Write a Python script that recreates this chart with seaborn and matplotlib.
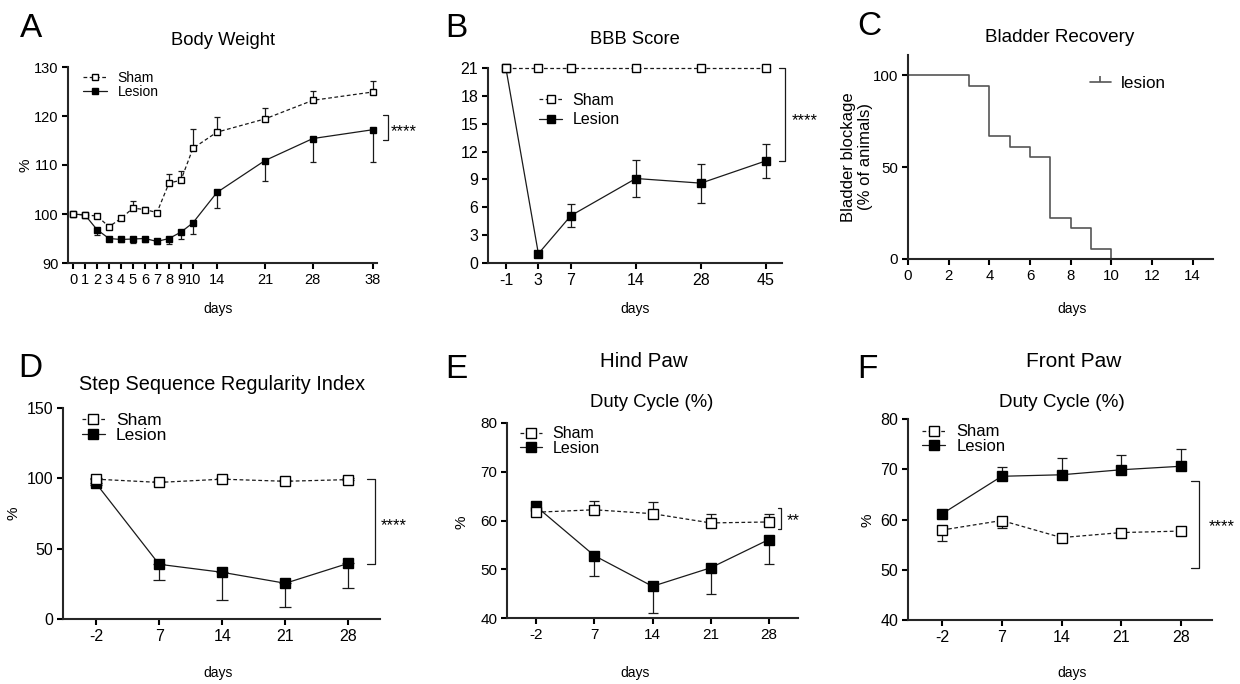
import numpy as np
import pandas as pd
import seaborn as sns
import matplotlib.pyplot as plt
from matplotlib.lines import Line2D

# ---- values ----
# A  body weight (%)
bw_days = [0, 1, 2, 3, 4, 5, 6, 7, 8, 9, 10, 14, 21, 28, 38]
bw_sham = [100, 99.8, 99.6, 97.4, 99.1, 101.2, 100.9, 100.3, 106.3, 106.9, 113.4, 116.7, 119.4, 123.2, 124.9]
bw_sham_err = [0.3, 0.3, 0.4, 0.5, 0.4, 1.5, 0.5, 0.4, 1.9, 1.8, 3.9, 3.1, 2.3, 1.9, 2.3]
bw_lesion = [100, 99.8, 96.8, 95.0, 94.8, 94.9, 95.0, 94.4, 95.0, 96.3, 98.2, 104.4, 110.9, 115.4, 117.2]
bw_lesion_err = [0.3, 0.3, 1.0, 0.5, 0.5, 0.8, 0.8, 0.5, 1.1, 1.4, 2.2, 3.1, 4.2, 4.8, 6.6]

# B  BBB score
bbb_days = [-1, 3, 7, 14, 28, 45]
bbb_sham = [21, 21, 21, 21, 21, 21]
bbb_lesion = [21, 1.0, 5.1, 9.1, 8.6, 11.0]
bbb_lesion_err = [0, 0.3, 1.25, 2.0, 2.1, 1.8]

# C  bladder recovery (% of animals still blocked)
bl_days = [0, 3, 4, 5, 6, 7, 8, 9, 10]
bl_pct = [100, 94.4, 66.7, 61.1, 55.6, 22.2, 16.7, 5.6, 0]

# D-F  gait analysis
gait_days = [-2, 7, 14, 21, 28]
ssri_sham = [99.4, 97.1, 99.4, 97.9, 99.1]
ssri_sham_err = [1, 1, 1, 1, 1]
ssri_lesion = [96.5, 38.9, 33.2, 25.4, 39.6]
ssri_lesion_err = [1, 11.2, 19.6, 17.0, 17.8]

hind_sham = [61.7, 62.2, 61.4, 59.5, 59.7]
hind_sham_err = [0.4, 1.7, 2.3, 1.9, 1.7]
hind_lesion = [62.9, 52.8, 46.5, 50.3, 56.1]
hind_lesion_err = [0.3, 4.1, 5.5, 5.4, 5.0]

front_sham = [57.9, 59.8, 56.4, 57.4, 57.7]
front_sham_err = [2.2, 1.5, 0.4, 0.3, 0.3]
front_lesion = [61.1, 68.6, 68.9, 69.9, 70.6]
front_lesion_err = [0.3, 1.8, 3.3, 2.9, 3.4]

sns.set_theme(style="ticks")
plt.rcParams["font.family"] = ["Liberation Sans", "DejaVu Sans"]
plt.rcParams["axes.linewidth"] = 1.5
plt.rcParams["text.color"] = "black"

W, H = 1240, 684
fig = plt.figure(figsize=(W / 100, H / 100), dpi=100)
INK = "#1a1a1a"


def box(l, t, r, b):
    return fig.add_axes([l / W, 1 - b / H, (r - l) / W, (b - t) / H])


def ftext(x, y, s, size, ha="center", va="baseline", **kw):
    fig.text(x / W, 1 - y / H, s, fontsize=size, ha=ha, va=va, **kw)


def warp(days, pos):
    # piecewise linear x axis (uneven day spacing like the original)
    d = np.asarray(days, float)
    p = np.asarray(pos, float)
    d = np.r_[d[0] - 100 * (d[1] - d[0]), d, d[-1] + 100 * (d[-1] - d[-2])]
    p = np.r_[p[0] - 100 * (p[1] - p[0]), p, p[-1] + 100 * (p[-1] - p[-2])]
    return (lambda x: np.interp(x, d, p), lambda y: np.interp(y, p, d))


def style_axis(ax, tick_size):
    sns.despine(ax=ax)
    ax.tick_params(direction="out", length=4, width=1.5, labelsize=tick_size,
                   pad=3, colors="black")
    ax.set_xlabel("")
    ax.set_ylabel("")


def group(ax, x, y, lo, hi, filled, ms, cap, z):
    ax.errorbar(x, y, yerr=[lo, hi], fmt="none", ecolor=INK, elinewidth=0.9,
                capsize=cap, capthick=0.9, zorder=z - 0.5, clip_on=False)
    sns.lineplot(x=x, y=y, ax=ax, color=INK, linewidth=0.9,
                 linestyle="-" if filled else (0, (3, 2)), marker="s",
                 markersize=ms, markerfacecolor="black" if filled else "white",
                 markeredgecolor="black", markeredgewidth=1.0, zorder=z,
                 clip_on=False)


def legend(ax, x, y, size, ms, hl, tp, sp):
    hs = Line2D([], [], color=INK, lw=0.9, ls=(0, (3, 2)), marker="s", ms=ms,
                mfc="white", mec="black", mew=1.0)
    hlz = Line2D([], [], color=INK, lw=0.9, ls="-", marker="s", ms=ms,
                 mfc="black", mec="black", mew=1.0)
    ax.legend([hs, hlz], ["Sham", "Lesion"], loc="center left",
              bbox_to_anchor=(x / W, 1 - y / H), bbox_transform=fig.transFigure,
              frameon=False, fontsize=size, handlelength=hl, handletextpad=tp,
              labelspacing=sp, borderpad=0, borderaxespad=0)


def bracket(ax, x, arm, y0, y1, stars, tx, ty, size=12, ha="center"):
    tr = ax.get_yaxis_transform()
    ax.plot([arm, x, x, arm], [y1, y1, y0, y0], color=INK, lw=0.9,
            transform=tr, clip_on=False)
    ax.text(tx, ty, stars, transform=tr, fontsize=size, ha=ha, va="center")


zero5 = [0, 0, 0, 0, 0]

# ---------------- A ----------------
ax = box(68, 67, 377, 263)
zb = [0] * len(bw_days)
group(ax, bw_days, bw_lesion, bw_lesion_err, zb, True, 5, 2.5, 3)
group(ax, bw_days, bw_sham, zb, bw_sham_err, False, 5, 2.5, 4)
ax.set_xscale("function", functions=warp(bw_days, [0, 1, 2, 3, 4, 5, 6, 7, 8, 9, 10, 12, 16, 20, 25]))
ax.set_xlim(-0.42, 38.7)
ax.set_xticks(bw_days)
ax.set_xticklabels([str(d) for d in bw_days])
ax.set_ylim(90, 130)
ax.set_yticks([90, 100, 110, 120, 130])
style_axis(ax, 10.5)
legend(ax, 83, 85, 10, 5, 1.7, 0.8, 0.05)
bracket(ax, 1.036, 1.019, 115.1, 120.2, "****", 1.087, 116.9)

# ---------------- B ----------------
ax = box(488, 68, 782, 263)
group(ax, bbb_days, bbb_lesion, bbb_lesion_err, bbb_lesion_err, True, 5.4, 3, 3)
group(ax, bbb_days, bbb_sham, [0] * 6, [0] * 6, False, 5.4, 3, 4)
ax.set_xscale("function", functions=warp(bbb_days, [0, 1, 2, 4, 6, 8]))
ax.set_xlim(-3.2, 49.2)
ax.set_xticks(bbb_days)
ax.set_xticklabels([str(d) for d in bbb_days])
ax.set_ylim(0, 21)
ax.set_yticks(range(0, 22, 3))
style_axis(ax, 11.5)
legend(ax, 539, 110, 11.5, 5.4, 1.45, 0.65, 0.3)
bracket(ax, 1.010, 0.990, 11, 21, "****", 1.078, 15.3)

# ---------------- C ----------------
ax = box(908, 55, 1213, 259)
sns.lineplot(x=bl_days, y=bl_pct, ax=ax, color="#555555", linewidth=1.2,
             drawstyle="steps-post", clip_on=False)
ax.set_xlim(0, 15)
ax.set_ylim(0, 111)
ax.set_xticks(range(0, 15, 2))
ax.set_yticks([0, 50, 100])
style_axis(ax, 10.8)
hc = Line2D([], [], color="#555555", lw=1.2, marker=2, ms=4, mew=1.2)
ax.legend([hc], ["lesion"], loc="center left", bbox_to_anchor=(1090 / W, 1 - 83 / H),
          bbox_transform=fig.transFigure, frameon=False, fontsize=12.3,
          handlelength=1.2, handletextpad=0.6, borderpad=0, borderaxespad=0)

# ---------------- D ----------------
ax = box(63, 408, 380, 619)
gait_warp = warp(gait_days, [0, 1, 2, 3, 4])
group(ax, gait_days, ssri_lesion, ssri_lesion_err, zero5, True, 7.2, 4.3, 3)
group(ax, gait_days, ssri_sham, zero5, ssri_sham_err, False, 7.2, 4.3, 4)
ax.set_xscale("function", functions=gait_warp)
ax.set_xlim(-6.7, 31.5)
ax.set_xticks(gait_days)
ax.set_xticklabels([str(d) for d in gait_days])
ax.set_ylim(0, 150)
ax.set_yticks([0, 50, 100, 150])
style_axis(ax, 11.5)
legend(ax, 82, 428, 12.5, 7.2, 1.3, 0.65, 0.0)
bracket(ax, 0.984, 0.959, 39, 99.3, "****", 1.044, 66.4)

# ---------------- E ----------------
ax = box(507, 423, 798, 618)
group(ax, gait_days, hind_lesion, hind_lesion_err, zero5, True, 6.8, 3.6, 3)
group(ax, gait_days, hind_sham, zero5, hind_sham_err, False, 6.8, 3.6, 4)
ax.set_xscale("function", functions=gait_warp)
ax.set_xlim(-6.5, 31.5)
ax.set_xticks(gait_days)
ax.set_xticklabels([str(d) for d in gait_days])
ax.set_ylim(40, 80)
ax.set_yticks([40, 50, 60, 70, 80])
style_axis(ax, 11)
legend(ax, 520, 441, 11.5, 6.8, 1.4, 0.65, -0.05)
bracket(ax, 0.942, 0.93, 58.3, 62.6, "**", 0.983, 59.9)

# ---------------- F ----------------
ax = box(908, 419, 1212, 620)
group(ax, gait_days, front_lesion, zero5, front_lesion_err, True, 6.5, 3.6, 3)
group(ax, gait_days, front_sham, front_sham_err, zero5, False, 6.5, 3.6, 4)
ax.set_xscale("function", functions=gait_warp)
ax.set_xlim(-7.1, 31.6)
ax.set_xticks(gait_days)
ax.set_xticklabels([str(d) for d in gait_days])
ax.set_ylim(40, 80)
ax.set_yticks([40, 50, 60, 70, 80])
style_axis(ax, 11.5)
legend(ax, 922, 439, 12, 6.5, 1.4, 0.65, -0.05)
bracket(ax, 0.957, 0.931, 50.3, 67.6, "****", 1.033, 58.5)

# ---------------- texts ----------------
for letter, x, y in [("A", 20, 37), ("B", 445, 37), ("C", 857, 35),
                     ("D", 18, 377), ("E", 445, 378), ("F", 857, 378)]:
    ftext(x, y, letter, 24, ha="left")

ftext(223, 45, "Body Weight", 13.2)
ftext(635, 44, "BBB Score", 13.2)
ftext(1060, 42, "Bladder Recovery", 13.6)
ftext(222, 390, "Step Sequence Regularity Index", 14.3)
ftext(644, 367, "Hind Paw", 14.8)
ftext(652, 407, "Duty Cycle (%)", 13.3)
ftext(1074, 367, "Front Paw", 15)
ftext(1062, 407, "Duty Cycle (%)", 13.6)

for x, y in [(218, 313), (635, 313), (1072, 313), (218, 677), (635, 677), (1072, 677)]:
    ftext(x, y, "days", 10)

for x, y in [(25, 165), (14, 513), (462, 522), (867, 520)]:
    ftext(x, y, "%", 11, va="center", rotation=90)
ftext(857, 157, "Bladder blockage\n(% of animals)", 12, va="center",
      rotation=90, linespacing=1.1)

fig.savefig("out.png", dpi=100)
